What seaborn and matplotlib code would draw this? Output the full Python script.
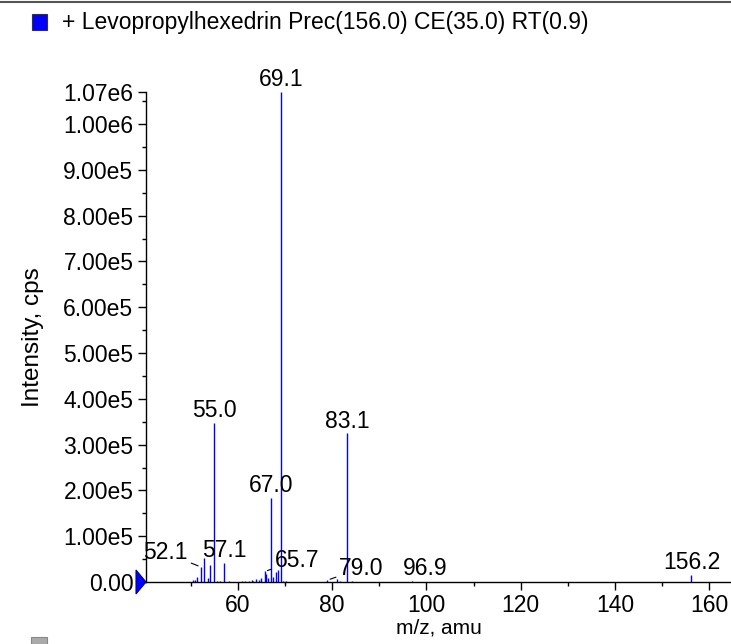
import numpy as np
import pandas as pd
import matplotlib
matplotlib.use('Agg')
import matplotlib.pyplot as plt
import seaborn as sns
from matplotlib.lines import Line2D
from matplotlib.patches import Polygon, Rectangle

# Style: plain white, ticks only
sns.set_theme(style='ticks')
plt.rcParams['font.family'] = ['Liberation Sans', 'DejaVu Sans']
plt.rcParams['text.color'] = 'black'
plt.rcParams['axes.labelcolor'] = 'black'
plt.rcParams['xtick.color'] = 'black'
plt.rcParams['ytick.color'] = 'black'

# Spectrum: m/z and intensity (cps)
mz = [50.4, 50.8, 51.3, 52.1, 52.9, 53.6, 54.1, 55.0, 55.5, 56.1,
      57.1, 58.1, 60.9, 61.5, 62.3, 62.9, 63.2, 63.9, 64.4, 65.0,
      65.7, 66.0, 66.3, 67.0, 67.5, 68.1, 68.5, 69.1, 69.6, 70.3,
      79.0, 81.1, 81.7, 83.1, 84.3, 96.9, 156.2]
intensity = [5e3, 4e3, 1.0e4, 3.3e4, 5.2e4, 9e3, 3.7e4, 3.48e5, 3e3, 2e3,
             4.2e4, 2e3, 2e3, 3e3, 3e3, 4e3, 3e3, 6e3, 4e3, 8e3,
             2.3e4, 1.8e4, 8e3, 1.84e5, 1.2e4, 2.2e4, 2.6e4, 1.07e6, 3e3, 2e3,
             4e3, 7e3, 2e3, 3.25e5, 2e3, 1.5e3, 1.6e4]

# Peaks that carry a label
label_mz = [69.1, 55.0, 83.1, 67.0, 57.1, 156.2, 52.1, 65.7, 79.0, 96.9]

# Axis ticks
xticks = [60, 80, 100, 120, 140, 160]
yticks = [0, 1e5, 2e5, 3e5, 4e5, 5e5, 6e5, 7e5, 8e5, 9e5, 1e6, 1.07e6]
ytick_labels = ['0.00', '1.00e5', '2.00e5', '3.00e5', '4.00e5', '5.00e5',
                '6.00e5', '7.00e5', '8.00e5', '9.00e5', '1.00e6', '1.07e6']

title = '+ Levopropylhexedrin Prec(156.0) CE(35.0) RT(0.9)'

spec = pd.DataFrame({'mz': mz, 'intensity': intensity})

FS = 16.5
W, H = 731, 644
fig = plt.figure(figsize=(W / 100, H / 100), dpi=100)
ax = fig.add_axes([146 / W, 1 - 582 / H, (W - 146) / W, (582 - 92) / H])

ax.vlines(spec['mz'], 0, spec['intensity'], color='#0000ff', lw=1.0)

ax.set_xlim(40.5, 164.6)
ax.set_ylim(0, 1.07e6)
ax.set_xticks(xticks)
ax.set_xticks(np.arange(50, 165, 20), minor=True)
ax.set_yticks(yticks)
ax.set_yticklabels(ytick_labels)
ax.set_yticks(np.arange(5e4, 1.07e6, 1e5), minor=True)
ax.tick_params(which='major', direction='out', length=6, width=1, colors='black',
               labelsize=FS, pad=3)
ax.tick_params(which='minor', direction='out', length=3, width=1, colors='black')
sns.despine(ax=ax, top=True, right=True)
for s in ['left', 'bottom']:
    ax.spines[s].set_color('black')
    ax.spines[s].set_linewidth(1.0)

ax.set_xlabel('m/z, amu', fontsize=15, labelpad=1)
ax.set_ylabel('Intensity, cps', fontsize=17.5, labelpad=14)

# Peak labels, a few pushed aside with a leader line
shift = {52.1: (-35, 14), 65.7: (32, 11), 79.0: (34, 12), 96.9: (13, 13)}
lookup = dict(zip(mz, intensity))
for m in label_mz:
    y = lookup[m]
    dx, dy = shift.get(m, (0, 12))
    arrow = dict(arrowstyle='-', lw=0.8, color='black', shrinkA=0, shrinkB=2) \
        if m in (52.1, 65.7, 79.0) else None
    ax.annotate(f'{m:.1f}', xy=(m, y), xytext=(dx, dy), textcoords='offset pixels',
                ha='center', va='center', fontsize=FS, annotation_clip=False,
                arrowprops=arrow)

# blue marker at the baseline on the y axis
tri = Polygon([(-10 / 585, -12 / 490), (-10 / 585, 12 / 490), (0, 0)], closed=True,
              transform=ax.transAxes, facecolor='#0000ff', edgecolor='#000080',
              lw=0.8, clip_on=False)
ax.add_patch(tri)

# header: frame line, legend swatch and title
fig.add_artist(Line2D([0, 1], [1 - 2 / H, 1 - 2 / H], color='#555555', lw=1.5))
fig.add_artist(Rectangle((32 / W, 1 - 30 / H), 15 / W, 16 / H, facecolor='#0000ff',
                         edgecolor='#333333', lw=0.8))
fig.text(62 / W, 1 - 22 / H, title, fontsize=FS, va='center', ha='left')
fig.add_artist(Rectangle((31 / W, 0), 16 / W, 7 / H, facecolor='#aaaaaa',
                         edgecolor='#888888', lw=0.8))

fig.savefig('out.png', dpi=100)
